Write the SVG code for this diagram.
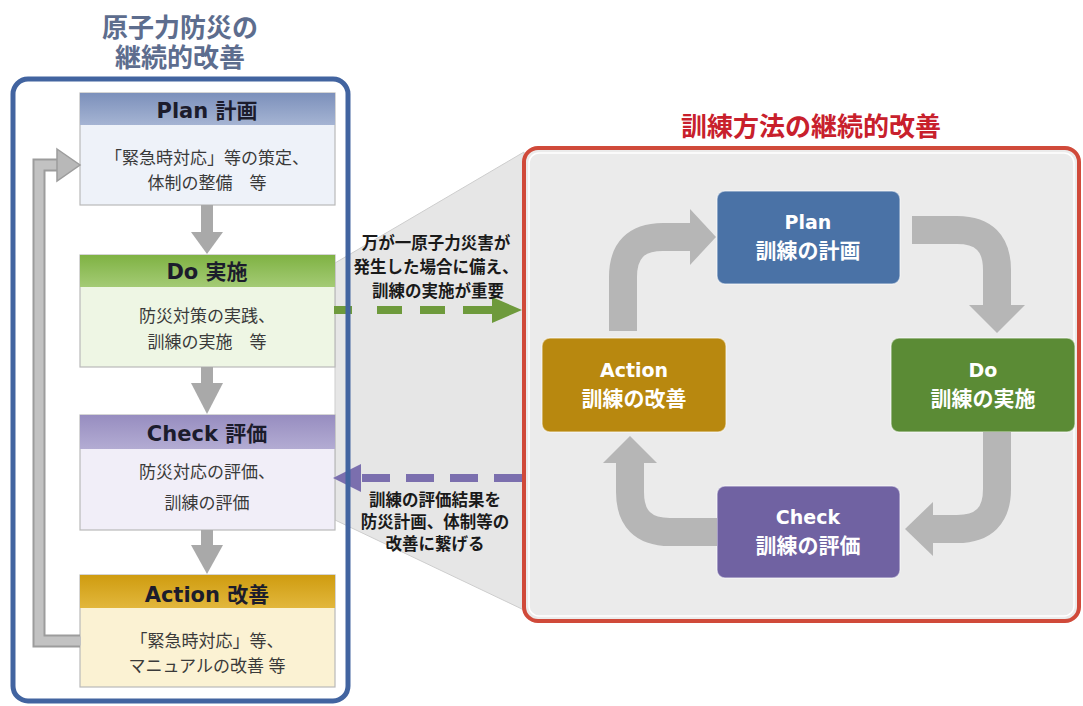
<svg xmlns="http://www.w3.org/2000/svg" width="1083" height="706" viewBox="0 0 1083 706">
<defs>
<style>
.jp{font-family:"Liberation Sans","Noto Sans CJK JP",sans-serif;}
.hd{font-family:"DejaVu Sans","Noto Sans CJK JP",sans-serif;font-weight:bold;font-size:21px;fill:#1c1c2c;text-anchor:middle;}
.bd{font-family:"Liberation Sans","Noto Sans CJK JP",sans-serif;font-size:17px;fill:#3a3a3a;text-anchor:middle;}
.box{stroke:#b9b9b9;stroke-width:1.2;}
.inl{font-family:"DejaVu Sans","Noto Sans CJK JP",sans-serif;font-weight:bold;font-size:19px;fill:#ffffff;text-anchor:middle;}
.inj{font-family:"Noto Sans CJK JP",sans-serif;font-weight:bold;font-size:21px;fill:#ffffff;text-anchor:middle;}
.note{font-family:"Noto Sans CJK JP",sans-serif;font-weight:bold;font-size:16.5px;fill:#1a1a1a;text-anchor:middle;}
.garr{fill:#a9a9a9;}
.carr{fill:none;stroke:#b6b6b6;stroke-width:28;}
.chead{fill:#b6b6b6;}
.node{stroke:#ffffff;stroke-opacity:0.5;stroke-width:1.5;}
</style>
<linearGradient id="gPlan" x1="0" y1="0" x2="0" y2="1"><stop offset="0" stop-color="#7c90bb"/><stop offset="1" stop-color="#a5b4d3"/></linearGradient>
<linearGradient id="gDo" x1="0" y1="0" x2="0" y2="1"><stop offset="0" stop-color="#7fb243"/><stop offset="1" stop-color="#a4cb75"/></linearGradient>
<linearGradient id="gCheck" x1="0" y1="0" x2="0" y2="1"><stop offset="0" stop-color="#978dc0"/><stop offset="1" stop-color="#b3acd3"/></linearGradient>
<linearGradient id="gAct" x1="0" y1="0" x2="0" y2="1"><stop offset="0" stop-color="#cf9c10"/><stop offset="1" stop-color="#e2b73c"/></linearGradient>
</defs>
<rect width="1083" height="706" fill="#ffffff"/>

<!-- Titles -->
<g id="title-left">
<text x="180" y="37" class="jp" font-size="26" font-weight="bold" fill="#5d6d8e" text-anchor="middle">原子力防災の</text>
<text x="180" y="67" class="jp" font-size="26" font-weight="bold" fill="#5d6d8e" text-anchor="middle">継続的改善</text>
</g>
<g id="title-right">
<text x="811" y="136" class="jp" font-size="26" font-weight="bold" fill="#c8202c" text-anchor="middle">訓練方法の継続的改善</text>
</g>

<!-- Right frame background -->
<rect x="524" y="148" width="555" height="473" rx="14" fill="#ebebeb"/>
<rect x="529" y="153" width="545" height="463" rx="10" fill="none" stroke="#ffffff" stroke-width="1.5"/>

<!-- Projection trapezoid -->
<polygon points="335,263 524,152 524,610 335,520" fill="#e6e6e6" stroke="#cdcdcd" stroke-width="1"/>

<!-- Left nodes -->
<g id="plan-left">
<rect x="80" y="93" width="255" height="112" fill="#eef2f9" class="box"/>
<rect x="80" y="93" width="255" height="32" fill="url(#gPlan)"/>
<text x="207" y="118" class="hd">Plan 計画</text>
<text x="207" y="164" class="bd">「緊急時対応」等の策定、</text>
<text x="207" y="189" class="bd">体制の整備　等</text>
</g>
<g id="do-left">
<rect x="80" y="255" width="255" height="112" fill="#eef6e4" class="box"/>
<rect x="80" y="255" width="255" height="32" fill="url(#gDo)"/>
<text x="207" y="279" class="hd">Do 実施</text>
<text x="207" y="322" class="bd">防災対策の実践、</text>
<text x="207" y="348" class="bd">訓練の実施　等</text>
</g>
<g id="check-left">
<rect x="80" y="415" width="255" height="115" fill="#f1eef8" class="box"/>
<rect x="80" y="415" width="255" height="34" fill="url(#gCheck)"/>
<text x="207" y="441" class="hd">Check 評価</text>
<text x="207" y="478" class="bd">防災対応の評価、</text>
<text x="207" y="509" class="bd">訓練の評価</text>
</g>
<g id="action-left">
<rect x="80" y="575" width="255" height="112" fill="#fbf2d3" class="box"/>
<rect x="80" y="575" width="255" height="33" fill="url(#gAct)"/>
<text x="207" y="602" class="hd">Action 改善</text>
<text x="207" y="647" class="bd">「緊急時対応」等、</text>
<text x="207" y="672" class="bd">マニュアルの改善 等</text>
</g>

<!-- Right nodes -->
<g id="plan-right">
<rect x="717" y="191" width="183" height="93" rx="8" fill="#4a72a6" class="node"/>
<text x="808" y="229" class="inl">Plan</text>
<text x="808" y="258" class="inj">訓練の計画</text>
</g>
<g id="do-right">
<rect x="891" y="338" width="184" height="94" rx="8" fill="#5b8b35" class="node"/>
<text x="983" y="377" class="inl">Do</text>
<text x="983" y="406" class="inj">訓練の実施</text>
</g>
<g id="check-right">
<rect x="717" y="486" width="183" height="92" rx="8" fill="#7062a2" class="node"/>
<text x="808" y="524" class="inl">Check</text>
<text x="808" y="553" class="inj">訓練の評価</text>
</g>
<g id="action-right">
<rect x="542" y="338" width="184" height="94" rx="8" fill="#b8880f" class="node"/>
<text x="634" y="377" class="inl">Action</text>
<text x="634" y="406" class="inj">訓練の改善</text>
</g>

<!-- Connectors -->
<g id="connectors">
<rect x="201" y="205" width="12" height="28" class="garr"/>
<polygon points="191,232 223,232 207,254" class="garr"/>
<rect x="201" y="367" width="12" height="17" class="garr"/>
<polygon points="191,383 223,383 207,414" class="garr"/>
<rect x="201" y="530" width="12" height="16" class="garr"/>
<polygon points="191,545 223,545 207,574" class="garr"/>
<polyline points="80,641 39,641 39,165 60,165" fill="none" stroke="#9c9c9c" stroke-width="13"/>
<polyline points="81,641 39,641 39,165 61,165" fill="none" stroke="#c2c2c2" stroke-width="9"/>
<polygon points="57,149 80,165 57,181" fill="#b8b8b8" stroke="#9c9c9c" stroke-width="1.5"/>
<path d="M623,331 L623,277 Q623,237 663,237 L693,237" class="carr"/>
<polygon points="690,209 716,237 690,265" class="chead"/>
<path d="M912,230 L957,230 Q997,230 997,270 L997,307" class="carr"/>
<polygon points="969,305 1025,305 997,333" class="chead"/>
<path d="M997,432 L997,489 Q997,529 957,529 L930,529" class="carr"/>
<polygon points="933,502 933,556 905,529" class="chead"/>
<path d="M717,532 L670,532 Q630,532 630,492 L630,460" class="carr"/>
<polygon points="603,463 657,463 630,436" class="chead"/>
<line x1="334" y1="310" x2="495" y2="310" stroke="#6e9a3c" stroke-width="8" stroke-dasharray="18 25 25 18 25 18 40"/>
<polygon points="492,297 522,310 492,323" fill="#6e9a3c"/>
<line x1="522" y1="478" x2="356" y2="478" stroke="#7b6fae" stroke-width="8" stroke-dasharray="28 16"/>
<polygon points="361,464 333,478 361,492" fill="#7b6fae"/>
</g>

<!-- Annotations -->
<g id="notes">
<text x="436" y="249" class="note">万が一原子力災害が</text>
<text x="436" y="273" class="note">発生した場合に備え、</text>
<text x="438" y="297" class="note">訓練の実施が重要</text>
<text x="435" y="506" class="note">訓練の評価結果を</text>
<text x="435" y="528" class="note">防災計画、体制等の</text>
<text x="435" y="550" class="note">改善に繋げる</text>
</g>

<!-- Frames -->
<rect x="13" y="79" width="335" height="622" rx="15" fill="none" stroke="#4264a0" stroke-width="5"/>
<rect x="524" y="148" width="555" height="473" rx="14" fill="none" stroke="#d04a3a" stroke-width="4"/>
</svg>
